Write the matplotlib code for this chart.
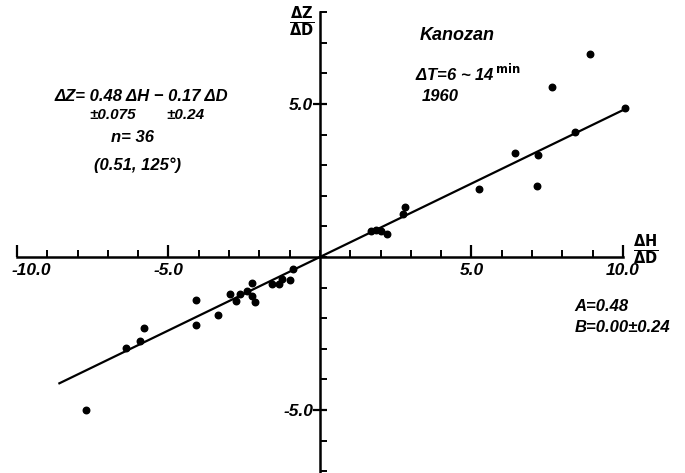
import numpy as np
import matplotlib.pyplot as plt
from matplotlib.transforms import ScaledTranslation

# dH/dD and dZ/dD values
dh_dd = [-7.72, -6.40, -5.94, -5.80, -4.09, -4.09, -3.36, -2.97, -2.77, -2.64,
         -2.42, -2.23, -2.25, -2.15, -1.59, -1.34, -1.26, -0.99, -0.90,
         1.68, 1.85, 2.01, 2.20, 2.73, 2.81, 8.91, 7.65, 10.07, 8.42, 6.44,
         7.20, 5.26, 7.15]
dz_dd = [-5.01, -2.97, -2.73, -2.33, -1.41, -2.23, -1.89, -1.21, -1.44, -1.21,
         -1.11, -0.85, -1.27, -1.46, -0.88, -0.88, -0.72, -0.74, -0.38,
         0.84, 0.87, 0.84, 0.74, 1.41, 1.63, 6.62, 5.57, 4.87, 4.08, 3.40,
         3.33, 2.21, 2.32]

A = 0.48
fit_x = np.array([-8.6, 10.07])

x_major = [-10, -5, 5, 10]
x_major_labels = ["-10.0", "-5.0", "5.0", "10.0"]
y_major = [-5, 5]
y_major_labels = ["-5.0", "5.0"]

hand = dict(family="Liberation Sans", style="italic", weight="bold", color="black")

fig = plt.figure(figsize=(6.85, 4.73), dpi=100)
ax = fig.add_axes([0, 0, 1, 1])
ax.set_xlim(-10.56, 12.05)
ax.set_ylim(-7.06, 8.4)

for side in ["top", "right"]:
    ax.spines[side].set_visible(False)
ax.spines["left"].set_position("zero")
ax.spines["bottom"].set_position("zero")
ax.spines["left"].set_bounds(-7.3, 8.0)
ax.spines["bottom"].set_bounds(-10, 10)
for side in ["left", "bottom"]:
    ax.spines[side].set_linewidth(1.8)

ax.set_xticks(x_major)
ax.set_xticklabels(x_major_labels, **hand, fontsize=12.5)
ax.set_xticks(np.arange(-10, 11, 1), minor=True)
ax.set_yticks(y_major)
ax.set_yticklabels(y_major_labels, **hand, fontsize=12.5)
ax.set_yticks(np.arange(-7, 9, 1), minor=True)
ax.tick_params(axis="x", which="major", direction="in", length=9, width=1.6, pad=4)
ax.tick_params(axis="x", which="minor", direction="in", length=5, width=1.4)
ax.tick_params(axis="y", which="major", direction="inout", length=10, width=1.6, pad=0)
ax.tick_params(axis="y", which="minor", direction="in", length=5, width=1.4)

# keep the -10.0 label inside the picture
first = ax.get_xticklabels()[0]
first.set_transform(first.get_transform() + ScaledTranslation(10 / 72, 0, fig.dpi_scale_trans))

ax.plot(fit_x, A * fit_x, color="black", lw=1.6)
ax.scatter(dh_dd, dz_dd, s=22, color="black", zorder=3)

ax.text(0.441, 0.953, r"$\mathbf{\frac{\Delta Z}{\Delta D}}$", transform=ax.transAxes,
        ha="center", va="center", fontsize=15)
ax.text(0.942, 0.471, r"$\mathbf{\frac{\Delta H}{\Delta D}}$", transform=ax.transAxes,
        ha="center", va="center", fontsize=15)

ax.text(0.613, 0.926, "Kanozan", transform=ax.transAxes, ha="left", va="center",
        fontsize=13, **hand)
ax.text(0.606, 0.846, r"ΔT=6 ~ 14$^{\,\mathbf{min}}$", transform=ax.transAxes, ha="left",
        va="center", fontsize=12, **hand)
ax.text(0.616, 0.795, "1960", transform=ax.transAxes, ha="left", va="center",
        fontsize=12, **hand)

ax.text(0.206, 0.795, "ΔZ= 0.48 ΔH − 0.17 ΔD", transform=ax.transAxes,
        ha="center", va="center", fontsize=12, **hand)
ax.text(0.165, 0.757, "±0.075", transform=ax.transAxes, ha="center", va="center",
        fontsize=11, **hand)
ax.text(0.27, 0.757, "±0.24", transform=ax.transAxes, ha="center", va="center",
        fontsize=11, **hand)
ax.text(0.194, 0.71, "n= 36", transform=ax.transAxes, ha="center", va="center",
        fontsize=12, **hand)
ax.text(0.2, 0.651, "(0.51, 125°)", transform=ax.transAxes, ha="center",
        va="center", fontsize=12, **hand)

ax.text(0.839, 0.351, "A=0.48", transform=ax.transAxes, ha="left", va="center",
        fontsize=12, **hand)
ax.text(0.839, 0.307, "B=0.00±0.24", transform=ax.transAxes, ha="left",
        va="center", fontsize=12, **hand)

fig.savefig("out.png", dpi=100)
